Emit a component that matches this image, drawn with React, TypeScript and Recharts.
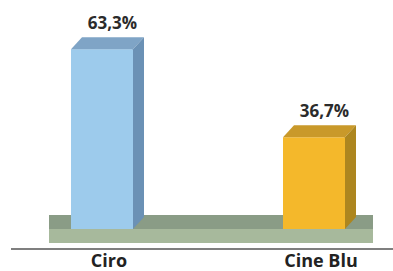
import { BarChart, Bar, XAxis, YAxis, ReferenceArea, LabelList } from "recharts";

const categories = ["Ciro", "Cine Blu"];
const shares = [63.3, 36.7];
const shareLabels = ["63,3%", "36,7%"];

const data = categories.map((name, i) => ({ name, share: shares[i], label: shareLabels[i] }));

const Y_MIN = 9;
const Y_MAX = 70;
const DEPTH_X = 11;
const DEPTH_Y = 12;
const FONT = "'Open Sans', 'DejaVu Sans', sans-serif";

const PALETTE = [
  { front: "#9dcbec", top: "#7fa4c6", side: "#6b91b5" },
  { front: "#f4b82b", top: "#c9992a", side: "#ad861f" },
];

function Prism(props: any) {
  const { x, y, width, height, index } = props;
  const c = PALETTE[index % PALETTE.length];
  const fw = width - DEPTH_X;
  const bottom = y + height;
  return (
    <g>
      <rect x={x} y={y} width={fw} height={height} fill={c.front} />
      <polygon
        points={`${x},${y} ${x + DEPTH_X},${y - DEPTH_Y} ${x + width},${y - DEPTH_Y} ${x + fw},${y}`}
        fill={c.top}
      />
      <polygon
        points={`${x + fw},${y} ${x + width},${y - DEPTH_Y} ${x + width},${bottom - DEPTH_Y} ${x + fw},${bottom}`}
        fill={c.side}
      />
    </g>
  );
}

// floor slab + baseline rule, placed relative to the x range
function Floor(props: any) {
  const { x, y, width, height } = props;
  const base = y + height;
  const left = x + 48;
  const right = x + width - 52;
  return (
    <g>
      <rect x={left} y={base - 14} width={right - left} height={14} fill="#8a9c86" />
      <rect x={left} y={base} width={right - left} height={14} fill="#a7b99c" />
      <line x1={x + 10} x2={x + width - 32} y1={base + 20} y2={base + 20} stroke="#555" strokeWidth={1.5} />
    </g>
  );
}

function ShareLabel(props: any) {
  const { x, y, width, value } = props;
  return (
    <text x={x + width / 2 + 5} y={y - 20} textAnchor="middle" fontFamily={FONT} fontWeight={700} fontSize={17} fill="#2b2b2b">
      {value}
    </text>
  );
}

function CategoryTick(props: any) {
  const { x, y, payload } = props;
  return (
    <text x={x + 2} y={y + 30} textAnchor="middle" fontFamily={FONT} fontWeight={700} fontSize={18} fill="#222">
      {payload.value}
    </text>
  );
}

export default function App() {
  return (
    <div style={{ position: "absolute", left: 0, top: 0, width: 393, height: 271, background: "#fff" }}>
      <BarChart width={393} height={271} data={data} margin={{ top: 27, right: 0, left: 11, bottom: 0 }}>
        <XAxis
          dataKey="name"
          axisLine={false}
          tickLine={false}
          height={42}
          padding={{ left: -10, right: -32 }}
          tick={<CategoryTick />}
          interval={0}
        />
        <YAxis hide domain={[Y_MIN, Y_MAX]} allowDataOverflow />
        <ReferenceArea y1={Y_MIN} y2={Y_MAX} shape={<Floor />} />
        <Bar dataKey="share" barSize={73} shape={<Prism />} isAnimationActive={false}>
          <LabelList dataKey="label" content={<ShareLabel />} />
        </Bar>
      </BarChart>
    </div>
  );
}
